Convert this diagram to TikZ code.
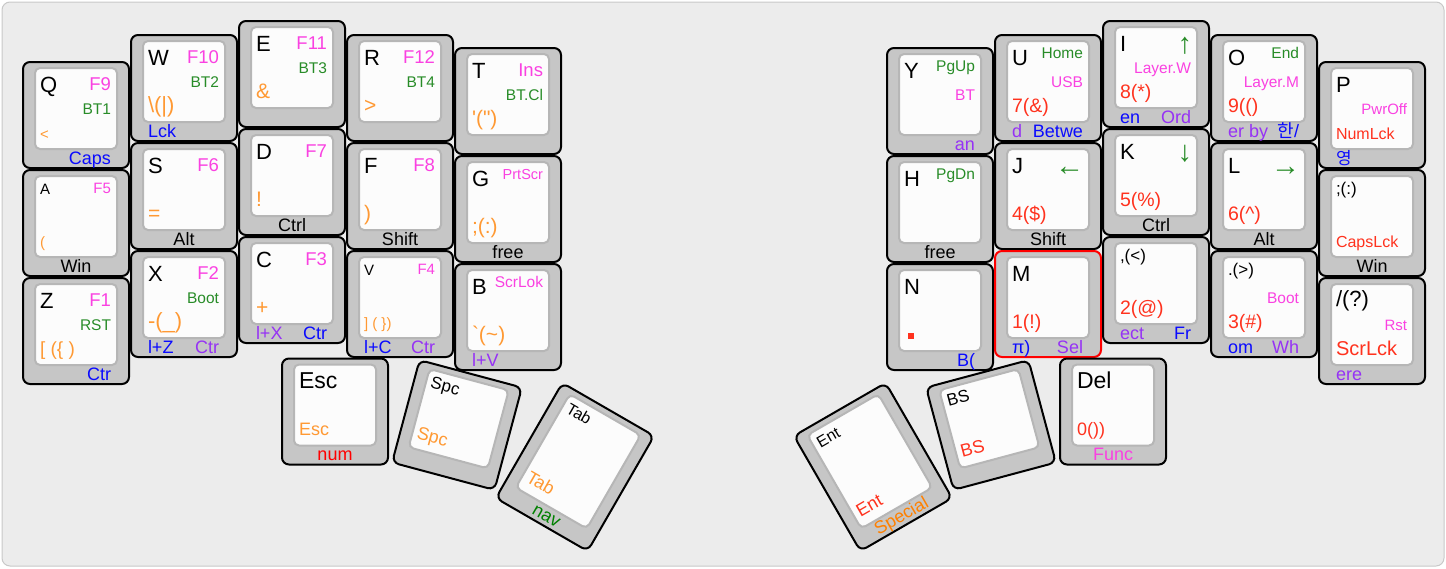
\documentclass[tikz,border=0pt]{standalone}
\usepackage{fontspec}
\setmainfont{Liberation Sans}[Ligatures=TeXOff]
\newfontfamily\kr{Noto Sans CJK KR}
\definecolor{mag}{RGB}{250,65,225}
\definecolor{grn}{RGB}{40,140,40}
\definecolor{org}{RGB}{255,153,51}
\definecolor{blu}{RGB}{10,10,255}
\definecolor{pur}{RGB}{150,50,245}
\definecolor{rd}{RGB}{255,50,30}
\definecolor{purered}{RGB}{255,0,0}
\definecolor{navg}{RGB}{0,128,0}
\definecolor{spc}{RGB}{255,128,0}
\definecolor{bg}{RGB}{236,236,236}
\definecolor{bgb}{RGB}{200,200,200}
\definecolor{keyg}{RGB}{198,198,198}
\definecolor{keyw}{RGB}{252,252,252}
\definecolor{ing}{RGB}{182,182,182}
\newcommand\fz[1]{\fontsize{#1pt}{#1pt}\selectfont}
\newcommand\kb[4][keyout]{\def\kn{#2}\begin{scope}[shift={#3},rotate=#4,transform shape]
  \path[#1] (-53,-53) rectangle (53,53);
  \path[keyin] (-41,-47) rectangle (41,34);}
\newcommand\kbt[3]{\def\kn{#1}\begin{scope}[shift={#2},rotate=#3,transform shape]
  \path[keyout] (-53,-66.5) rectangle (53,66.5);
  \path[keyin] (-41,-60.5) rectangle (41,47.5);}
\newcommand\ke{\end{scope}}
\tikzset{
 keyout/.style={draw=black,line width=2pt,fill=keyg,rounded corners=7pt},
 keysel/.style={keyout,draw=purered},
 keyin/.style={draw=ing,line width=2pt,fill=keyw,rounded corners=5pt},
 lb/.style={inner sep=0pt,outer sep=0pt},
 ltap/.style={lb,anchor=base west,at={(-36,-23)},font=\fz{22}},
 ltaps/.style={lb,anchor=base west,at={(-36,-29)},font=\fz{16}},
 ltr/.style={lb,anchor=base east,at={(35,-25)},text=mag,font=\fz{18.5}},
 ltrs/.style={lb,anchor=base east,at={(35,-30)},font=\fz{15.5}},
 larr/.style={lb,anchor=base east,at={(36,-21)},text=grn,font=\fz{29}},
 lmr/.style={lb,anchor=base east,at={(35,-1)},font=\fz{15.5}},
 lbl/.style={lb,anchor=base west,at={(-36,24)},font=\fz{21}},
 lblr/.style={lbl,text=rd,font=\fz{19.5}},
 lhc/.style={lb,anchor=base,at={(0,49)},font=\fz{18}},
 lhl/.style={lb,anchor=base west,at={(-36,49)},font=\fz{18}},
 lhr/.style={lb,anchor=base east,at={(35,49)},font=\fz{18}},
}
\begin{document}
\begin{tikzpicture}[x=1pt,y=-1pt]
\useasboundingbox (0,0) rectangle (1446,568);
\path[fill=bg,draw=bgb,line width=1pt,rounded corners=8pt] (2,2) rectangle (1444,566);
% ---------- left hand ----------
\kb{q}{(76,115)}{0}
 \node[ltap] (\kn-t) {Q}; \node[ltr] (\kn-r) {F9};
 \node[lmr,text=grn] (\kn-m) {BT1}; \node[lbl,text=org,font=\fz{15}] (\kn-b) {<};
 \node[lhr,text=blu] (\kn-h) {Caps};
\ke
\kb{w}{(184,88)}{0}
 \node[ltap] (\kn-t) {W}; \node[ltr] (\kn-r) {F10};
 \node[lmr,text=grn] (\kn-m) {BT2}; \node[lbl,text=org,font=\fz{22}] (\kn-b) {\textbackslash(|)};
 \node[lhl,text=blu] (\kn-h) {Lck};
\ke
\kb{e}{(292,74)}{0}
 \node[ltap] (\kn-t) {E}; \node[ltr] (\kn-r) {F11};
 \node[lmr,text=grn] (\kn-m) {BT3}; \node[lbl,text=org] (\kn-b) {\&};
\ke
\kb{r}{(400,88)}{0}
 \node[ltap] (\kn-t) {R}; \node[ltr] (\kn-r) {F12};
 \node[lmr,text=grn] (\kn-m) {BT4}; \node[lbl,text=org] (\kn-b) {>};
\ke
\kb{t}{(508,101)}{0}
 \node[ltap] (\kn-t) {T}; \node[ltr] (\kn-r) {Ins};
 \node[lmr,text=grn] (\kn-m) {BT.Cl}; \node[lbl,text=org] (\kn-b) {'(")};
\ke
\kb{a}{(76,223)}{0}
 \node[ltaps,font=\fz{15}] (\kn-t) {A}; \node[ltrs,text=mag,font=\fz{15}] (\kn-r) {F5};
 \node[lbl,text=org,font=\fz{15}] (\kn-b) {(}; \node[lhc] (\kn-h) {Win};
\ke
\kb{s}{(184,196)}{0}
 \node[ltap] (\kn-t) {S}; \node[ltr] (\kn-r) {F6};
 \node[lbl,text=org] (\kn-b) {=}; \node[lhc] (\kn-h) {Alt};
\ke
\kb{d}{(292,182)}{0}
 \node[ltap] (\kn-t) {D}; \node[ltr] (\kn-r) {F7};
 \node[lbl,text=org] (\kn-b) {!}; \node[lhc] (\kn-h) {Ctrl};
\ke
\kb{f}{(400,196)}{0}
 \node[ltap] (\kn-t) {F}; \node[ltr] (\kn-r) {F8};
 \node[lbl,text=org] (\kn-b) {)}; \node[lhc] (\kn-h) {Shift};
\ke
\kb{g}{(508,209)}{0}
 \node[ltap] (\kn-t) {G}; \node[ltrs,text=mag,font=\fz{14.5}] (\kn-r) {PrtScr};
 \node[lbl,text=org] (\kn-b) {;(:)}; \node[lhc] (\kn-h) {free};
\ke
\kb{z}{(76,331)}{0}
 \node[ltap] (\kn-t) {Z}; \node[ltr] (\kn-r) {F1};
 \node[lmr,text=grn] (\kn-m) {RST}; \node[lbl,text=org,font=\fz{19}] (\kn-b) {[ (\{ )};
 \node[lhr,text=blu] (\kn-h) {Ctr};
\ke
\kb{x}{(184,304)}{0}
 \node[ltap] (\kn-t) {X}; \node[ltr] (\kn-r) {F2};
 \node[lmr,text=grn] (\kn-m) {Boot}; \node[lbl,text=org,font=\fz{22}] (\kn-b) {-(\_)};
 \node[lhl,text=blu] (\kn-h) {l+Z}; \node[lhr,text=pur] (\kn-k) {Ctr};
\ke
\kb{c}{(292,290)}{0}
 \node[ltap] (\kn-t) {C}; \node[ltr] (\kn-r) {F3};
 \node[lbl,text=org] (\kn-b) {+};
 \node[lhl,text=pur] (\kn-h) {l+X}; \node[lhr,text=blu] (\kn-k) {Ctr};
\ke
\kb{v}{(400,304)}{0}
 \node[ltaps,font=\fz{15}] (\kn-t) {V}; \node[ltrs,text=mag,font=\fz{15}] (\kn-r) {F4};
 \node[lbl,text=org,font=\fz{15}] (\kn-b) {] ( \})};
 \node[lhl,text=blu] (\kn-h) {l+C}; \node[lhr,text=pur] (\kn-k) {Ctr};
\ke
\kb{b}{(508,317)}{0}
 \node[ltap] (\kn-t) {B}; \node[ltrs,text=mag,font=\fz{15.5}] (\kn-r) {ScrLok};
 \node[lbl,text=org] (\kn-b) {`(\textasciitilde)};
 \node[lhl,text=pur] (\kn-h) {l+V};
\ke
% thumbs left
\kb{esc}{(335,411.5)}{0}
 \node[ltap,font=\fz{23}] (\kn-t) {Esc}; \node[lbl,text=org,font=\fz{18}] (\kn-b) {Esc};
 \node[lhc,text=purered] (\kn-h) {num};
\ke
\kb{spc}{(457,425)}{-15}
 \node[ltaps,font=\fz{17}] (\kn-t) {Spc}; \node[lbl,text=org,font=\fz{18}] (\kn-b) {Spc};
\ke
\kbt{tab}{(575,467)}{-30}
 \node[lb,anchor=base west,at={(-36,-42.5)},font=\fz{16}] (\kn-t) {Tab};
 \node[lb,anchor=base west,at={(-36,37.5)},text=org,font=\fz{18}] (\kn-b) {Tab};
 \node[lb,anchor=base,at={(0,62.5)},text=navg,font=\fz{18}] (\kn-h) {nav};
\ke
% ---------- right hand ----------
\kb{y}{(940,101)}{0}
 \node[ltap] (\kn-t) {Y}; \node[ltrs,text=grn] (\kn-r) {PgUp};
 \node[lmr,text=mag] (\kn-m) {BT}; \node[lhr,text=pur] (\kn-h) {an};
\ke
\kb{u}{(1048,88)}{0}
 \node[ltap] (\kn-t) {U}; \node[ltrs,text=grn] (\kn-r) {Home};
 \node[lmr,text=mag] (\kn-m) {USB}; \node[lblr] (\kn-b) {7(\&)};
 \node[lhl,text=pur] (\kn-h) {d}; \node[lhr,text=blu] (\kn-k) {Betwe};
\ke
\kb{i}{(1156,74)}{0}
 \node[ltap] (\kn-t) {I}; \node[larr] (\kn-r) {↑};
 \node[lmr,text=mag] (\kn-m) {Layer.W}; \node[lblr] (\kn-b) {8(*)};
 \node[lhl,text=blu] (\kn-h) {en}; \node[lhr,text=pur] (\kn-k) {Ord};
\ke
\kb{o}{(1264,88)}{0}
 \node[ltap] (\kn-t) {O}; \node[ltrs,text=grn] (\kn-r) {End};
 \node[lmr,text=mag] (\kn-m) {Layer.M}; \node[lblr] (\kn-b) {9(()};
 \node[lhl,text=pur] (\kn-h) {er by}; \node[lhr,text=blu] (\kn-k) {{\kr 한}/};
\ke
\kb{p}{(1372,115)}{0}
 \node[ltap] (\kn-t) {P}; \node[lmr,text=mag,font=\fz{15}] (\kn-m) {PwrOff};
 \node[lbl,text=rd,font=\fz{16}] (\kn-b) {NumLck};
 \node[lhl,text=blu,font=\kr\fz{17}] (\kn-h) {영};
\ke
\kb{h}{(940,209)}{0}
 \node[ltap] (\kn-t) {H}; \node[ltrs,text=grn] (\kn-r) {PgDn};
 \node[lhc] (\kn-h) {free};
\ke
\kb{j}{(1048,196)}{0}
 \node[ltap] (\kn-t) {J}; \node[larr] (\kn-r) {←};
 \node[lblr] (\kn-b) {4(\$)}; \node[lhc] (\kn-h) {Shift};
\ke
\kb{k}{(1156,182)}{0}
 \node[ltap] (\kn-t) {K}; \node[larr] (\kn-r) {↓};
 \node[lblr] (\kn-b) {5(\%)}; \node[lhc] (\kn-h) {Ctrl};
\ke
\kb{l}{(1264,196)}{0}
 \node[ltap] (\kn-t) {L}; \node[larr] (\kn-r) {→};
 \node[lblr] (\kn-b) {6(\textasciicircum)}; \node[lhc] (\kn-h) {Alt};
\ke
\kb{semi}{(1372,223)}{0}
 \node[ltaps,font=\fz{17}] (\kn-t) {;(:)};
 \node[lbl,text=rd,font=\fz{16}] (\kn-b) {CapsLck}; \node[lhc] (\kn-h) {Win};
\ke
\kb{n}{(940,317)}{0}
 \node[ltap] (\kn-t) {N};
 \fill[rd] (-32,16) rectangle (-26.5,21.5);
 \node[lhr,text=blu] (\kn-h) {B(};
\ke
\kb[keysel]{m}{(1048,304)}{0}
 \node[ltap] (\kn-t) {M}; \node[lblr] (\kn-b) {1(!)};
 \node[lhl,text=blu] (\kn-h) {π)}; \node[lhr,text=pur] (\kn-k) {Sel};
\ke
\kb{comma}{(1156,290)}{0}
 \node[ltaps,font=\fz{17}] (\kn-t) {,(<)}; \node[lblr] (\kn-b) {2(@)};
 \node[lhl,text=pur] (\kn-h) {ect}; \node[lhr,text=blu] (\kn-k) {Fr};
\ke
\kb{dot}{(1264,304)}{0}
 \node[ltaps,font=\fz{17}] (\kn-t) {.(>)}; \node[lmr,text=mag] (\kn-m) {Boot};
 \node[lblr] (\kn-b) {3(\#)};
 \node[lhl,text=blu] (\kn-h) {om}; \node[lhr,text=pur] (\kn-k) {Wh};
\ke
\kb{slash}{(1372,331)}{0}
 \node[ltap,at={(-36,-25)}] (\kn-t) {/(?)}; \node[lmr,text=mag,font=\fz{15}] (\kn-m) {Rst};
 \node[lbl,text=rd,font=\fz{20}] (\kn-b) {ScrLck};
 \node[lhl,text=pur] (\kn-h) {ere};
\ke
% thumbs right
\kb{del}{(1113,411.5)}{0}
 \node[ltap,font=\fz{23}] (\kn-t) {Del}; \node[lbl,text=rd,font=\fz{18}] (\kn-b) {0())};
 \node[lhc,text=mag] (\kn-h) {Func};
\ke
\kb{bs}{(991,425)}{15}
 \node[ltaps,font=\fz{17}] (\kn-t) {BS}; \node[lbl,text=rd,font=\fz{18}] (\kn-b) {BS};
\ke
\kbt{ent}{(873,467)}{30}
 \node[lb,anchor=base west,at={(-36,-42.5)},font=\fz{16}] (\kn-t) {Ent};
 \node[lb,anchor=base west,at={(-36,37.5)},text=rd,font=\fz{18}] (\kn-b) {Ent};
 \node[lb,anchor=base,at={(0,62.5)},text=spc,font=\fz{18}] (\kn-h) {Special};
\ke
\end{tikzpicture}
\end{document}
